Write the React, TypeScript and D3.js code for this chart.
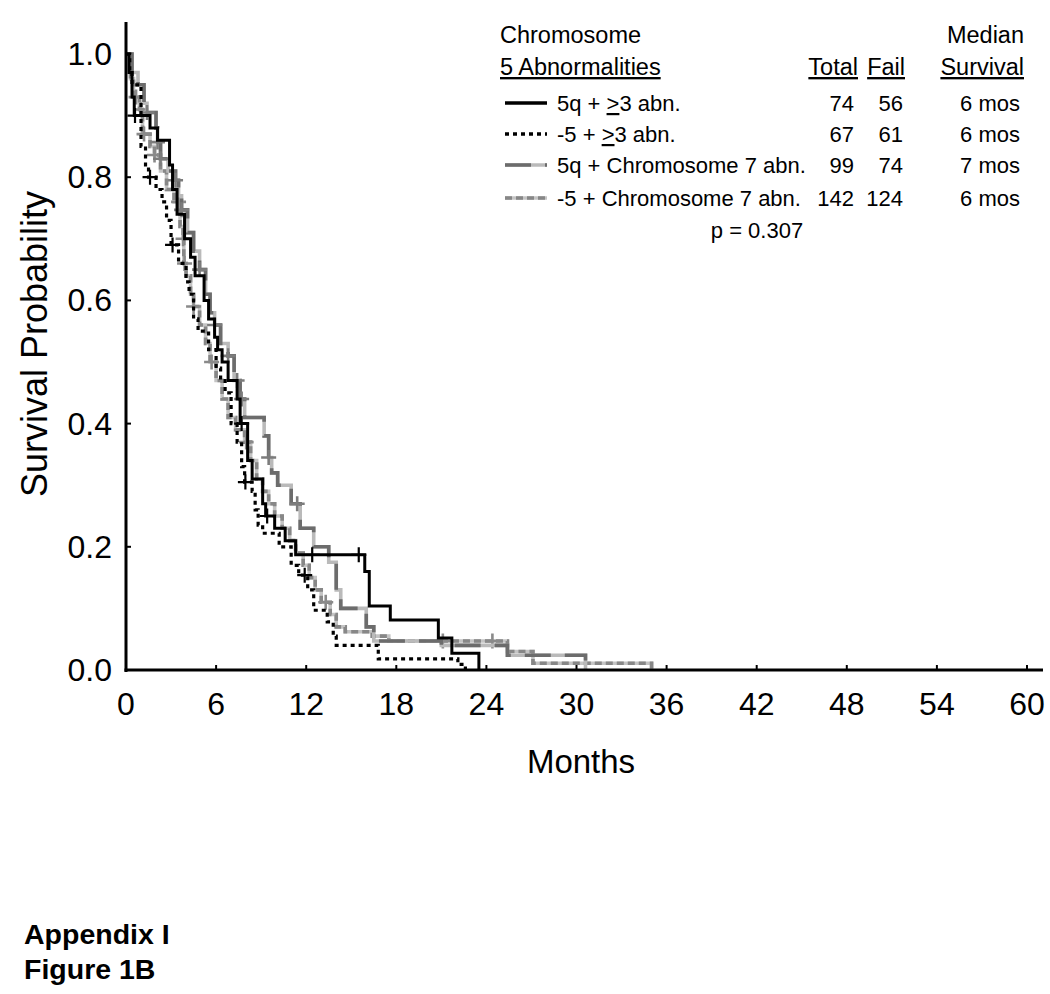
import React from "react";
import * as d3 from "d3";

// ---------- DATA ----------
const xTicks = [0, 6, 12, 18, 24, 30, 36, 42, 48, 54, 60];
const yTicks = [0, 0.2, 0.4, 0.6, 0.8, 1.0];

// 5q + >=3 abn. (solid black)
const solidTimes = [0, 0.2, 0.4, 0.55, 1.6, 2.1, 2.9, 3.1, 3.4, 3.9, 4.3, 4.6, 5.2, 5.5, 5.9, 6.1, 6.4, 6.8, 7.4, 7.6, 8.1, 8.4, 9.1, 9.3, 9.9, 10.6, 11.3, 15.9, 16.2, 17.6, 20.8, 21.7, 23.5];
const solidSurv = [1, 0.97, 0.93, 0.9, 0.88, 0.86, 0.82, 0.78, 0.74, 0.7, 0.67, 0.64, 0.6, 0.57, 0.54, 0.52, 0.5, 0.47, 0.44, 0.4, 0.34, 0.31, 0.27, 0.25, 0.23, 0.21, 0.187, 0.16, 0.104, 0.081, 0.052, 0.027, 0];
const solidCensor = [0.6, 7.7, 9.4, 12.4, 15.5];

// -5 + >=3 abn. (dotted black)
const dottedTimes = [0, 0.25, 0.4, 1.0, 1.3, 1.5, 2.0, 2.4, 2.7, 3.0, 3.5, 4.0, 4.2, 4.5, 4.8, 5.5, 6.0, 6.3, 6.6, 7.0, 7.4, 7.7, 7.9, 8.4, 8.6, 8.8, 9.1, 10.2, 11.0, 11.5, 12.1, 12.5, 13.4, 13.8, 14.0, 16.8, 22.1, 22.6];
const dottedSurv = [1, 0.97, 0.95, 0.85, 0.82, 0.8, 0.78, 0.76, 0.73, 0.69, 0.66, 0.63, 0.61, 0.57, 0.55, 0.52, 0.49, 0.47, 0.45, 0.4, 0.37, 0.33, 0.305, 0.29, 0.26, 0.235, 0.222, 0.2, 0.17, 0.154, 0.13, 0.097, 0.078, 0.055, 0.04, 0.018, 0.009, 0];
const dottedCensor = [1.6, 3.1, 7.95, 11.9];

// 5q + Chromosome 7 abn. (dark/light gray)
const q7Times = [0, 0.4, 0.8, 1.2, 1.4, 2.0, 2.1, 2.3, 2.8, 3.3, 3.5, 3.7, 4.1, 4.5, 4.9, 5.3, 5.6, 5.9, 6.3, 6.8, 7.2, 7.6, 7.9, 9.2, 9.5, 9.7, 10.1, 11.0, 11.6, 12.5, 13.5, 14.0, 14.3, 16.0, 16.5, 21.0, 25.4, 30.6];
const q7Surv = [1, 0.97, 0.95, 0.92, 0.905, 0.88, 0.857, 0.83, 0.81, 0.795, 0.77, 0.747, 0.71, 0.68, 0.65, 0.61, 0.58, 0.56, 0.53, 0.51, 0.47, 0.44, 0.41, 0.38, 0.345, 0.32, 0.3, 0.27, 0.23, 0.2, 0.175, 0.13, 0.1, 0.07, 0.047, 0.04, 0.024, 0];
const q7Censor = [1.4, 2.1, 2.3, 3.3, 3.7, 4.9, 5.9, 6.8, 7.4, 7.7, 9.5, 11.4];

// -5 + Chromosome 7 abn. (gray dashed)
const m7Times = [0, 0.3, 0.5, 0.9, 1.1, 1.6, 1.9, 2.3, 2.7, 3.2, 3.6, 3.8, 3.85, 4.0, 4.3, 4.5, 4.9, 5.3, 5.6, 6.0, 6.4, 6.8, 7.3, 7.9, 8.3, 8.7, 9.1, 9.5, 9.9, 10.4, 10.9, 11.3, 11.8, 12.2, 12.6, 13.0, 13.6, 14.0, 14.6, 16.4, 17.5, 25.4, 27.1, 35.0];
const m7Surv = [1, 0.96, 0.93, 0.91, 0.87, 0.85, 0.836, 0.81, 0.78, 0.76, 0.72, 0.7, 0.66, 0.64, 0.61, 0.59, 0.56, 0.53, 0.5, 0.47, 0.44, 0.41, 0.39, 0.37, 0.34, 0.31, 0.29, 0.27, 0.25, 0.23, 0.21, 0.19, 0.17, 0.15, 0.13, 0.11, 0.09, 0.07, 0.062, 0.055, 0.047, 0.03, 0.011, 0];
const m7Censor = [0.67, 1.0, 1.2, 1.9, 3.5, 3.8, 3.9, 4.5, 5.7, 8.0, 13.3, 21.1, 24.4];

const legendLabels = ["5q + ≥3 abn.", "-5 + ≥3 abn.", "5q + Chromosome 7 abn.", "-5 + Chromosome 7 abn."];
const legendTotal = ["74", "67", "99", "142"];
const legendFail = ["56", "61", "74", "124"];
const legendMedian = ["6 mos", "6 mos", "7 mos", "6 mos"];
const pValueText = "p = 0.307";

// ---------- LAYOUT ----------
const W = 1050;
const H = 994;
const FONT = "'Liberation Sans', Arial, Helvetica, sans-serif";

const x = d3.scaleLinear().domain([0, 60]).range([126, 1027]);
const y = d3.scaleLinear().domain([0, 1]).range([670, 54]);

const stepLine = d3
  .line<[number, number]>()
  .x((d) => x(d[0]))
  .y((d) => y(d[1]))
  .curve(d3.curveStepAfter);

function survAt(times: number[], surv: number[], t: number) {
  const i = d3.bisectRight(times, t) - 1;
  return surv[Math.max(0, i)];
}

function plusPath(times: number[], surv: number[], cens: number[], r: number) {
  return cens
    .map((t) => {
      const px = x(t);
      const py = y(survAt(times, surv, t));
      return `M${px - r},${py}h${2 * r}M${px},${py - r}v${2 * r}`;
    })
    .join("");
}

type Series = {
  times: number[];
  surv: number[];
  censor: number[];
  base?: string;
  color: string;
  dash?: string;
  markColor: string;
  width: number;
  markWidth: number;
};

const series: Series[] = [
  { times: solidTimes, surv: solidSurv, censor: solidCensor, color: "#000", markColor: "#000", width: 3, markWidth: 2.2 },
  { times: dottedTimes, surv: dottedSurv, censor: dottedCensor, color: "#000", dash: "4 4", markColor: "#000", width: 3.2, markWidth: 2.2 },
  { times: q7Times, surv: q7Surv, censor: q7Censor, base: "#bababa", color: "#6c6c6c", dash: "26 14", markColor: "#7c7c7c", width: 3.6, markWidth: 2.6 },
  { times: m7Times, surv: m7Surv, censor: m7Censor, base: "#c4c4c4", color: "#878787", dash: "7 4", markColor: "#8a8a8a", width: 3.6, markWidth: 2.6 },
];

function Curve({ s }: { s: Series }) {
  const pts = s.times.map((t, i) => [t, s.surv[i]] as [number, number]);
  const d = stepLine(pts) || "";
  return (
    <g>
      {s.base && <path d={d} fill="none" stroke={s.base} strokeWidth={s.width} />}
      <path d={d} fill="none" stroke={s.color} strokeWidth={s.width} strokeDasharray={s.dash} />
      <path d={plusPath(s.times, s.surv, s.censor, 7.5)} fill="none" stroke={s.markColor} strokeWidth={s.markWidth} />
    </g>
  );
}

function LegendLabel({ text, xPos, yPos }: { text: string; xPos: number; yPos: number }) {
  const idx = text.indexOf("≥");
  if (idx < 0) {
    return (
      <text x={xPos} y={yPos}>
        {text}
      </text>
    );
  }
  return (
    <text x={xPos} y={yPos}>
      <tspan>{text.slice(0, idx)}</tspan>
      <tspan textDecoration="underline">{">"}</tspan>
      <tspan>{text.slice(idx + 1)}</tspan>
    </text>
  );
}

export default function App() {
  const legendRowY = [111, 142, 173, 206];
  const totalRight = 854;
  const failRight = 903;
  const medRight = 1020;
  return (
    <svg
      width={W}
      height={H}
      viewBox={`0 0 ${W} ${H}`}
      style={{ position: "absolute", left: 0, top: 0, background: "#fff" }}
      fontFamily={FONT}
    >
      <rect x={0} y={0} width={W} height={H} fill="#fff" />

      {/* curves: grays first, black on top */}
      <Curve s={series[3]} />
      <Curve s={series[2]} />
      <Curve s={series[1]} />
      <Curve s={series[0]} />

      {/* axes */}
      <line x1={x(0)} x2={x(0)} y1={22} y2={672} stroke="#000" strokeWidth={3} />
      <line x1={x(0) - 1.5} x2={1043} y1={y(0)} y2={y(0)} stroke="#000" strokeWidth={3} />
      {xTicks.map((t) => (
        <g key={"xt" + t}>
          <line x1={x(t)} x2={x(t)} y1={y(0)} y2={y(0) - 5} stroke="#000" strokeWidth={2} />
          <text x={x(t)} y={715} textAnchor="middle" fontSize={32} fill="#000">
            {t}
          </text>
        </g>
      ))}
      {yTicks.map((v) => (
        <g key={"yt" + v}>
          <line x1={x(0)} x2={x(0) + 5} y1={y(v)} y2={y(v)} stroke="#000" strokeWidth={2} />
          <text x={112} y={y(v) + 11} textAnchor="end" fontSize={32} fill="#000">
            {v.toFixed(1)}
          </text>
        </g>
      ))}
      <text x={581} y={773} textAnchor="middle" fontSize={33} fill="#000">
        Months
      </text>
      <text
        transform={`translate(47, ${344}) rotate(-90)`}
        textAnchor="middle"
        fontSize={36}
        fill="#000"
      >
        Survival Probability
      </text>

      {/* legend */}
      <g fontSize={23.5} fill="#000">
        <text x={500} y={43}>Chromosome</text>
        <text x={1024} y={43} textAnchor="end">Median</text>
        <text x={500} y={75} textDecoration="underline">5 Abnormalities</text>
        <text x={858} y={75} textAnchor="end" textDecoration="underline">Total</text>
        <text x={905} y={75} textAnchor="end" textDecoration="underline">Fail</text>
        <text x={1024} y={75} textAnchor="end" textDecoration="underline">Survival</text>
      </g>
      <g fontSize={22} fill="#000">
        {legendLabels.map((lab, i) => {
          const s = series[i];
          const ly = legendRowY[i] - 8;
          return (
            <g key={"lg" + i}>
              {s.base && <line x1={505} x2={547} y1={ly} y2={ly} stroke={s.base} strokeWidth={3.5} />}
              <line x1={505} x2={547} y1={ly} y2={ly} stroke={s.color} strokeWidth={3.5} strokeDasharray={s.dash} />
              <LegendLabel text={lab} xPos={557} yPos={legendRowY[i]} />
              <text x={totalRight} y={legendRowY[i]} textAnchor="end">{legendTotal[i]}</text>
              <text x={failRight} y={legendRowY[i]} textAnchor="end">{legendFail[i]}</text>
              <text x={medRight} y={legendRowY[i]} textAnchor="end">{legendMedian[i]}</text>
            </g>
          );
        })}
        <text x={757} y={238} textAnchor="middle">{pValueText}</text>
      </g>

      {/* footer */}
      <g fontSize={28.5} fontWeight="bold" fill="#000">
        <text x={24} y={944}>Appendix I</text>
        <text x={24} y={979}>Figure 1B</text>
      </g>
    </svg>
  );
}
